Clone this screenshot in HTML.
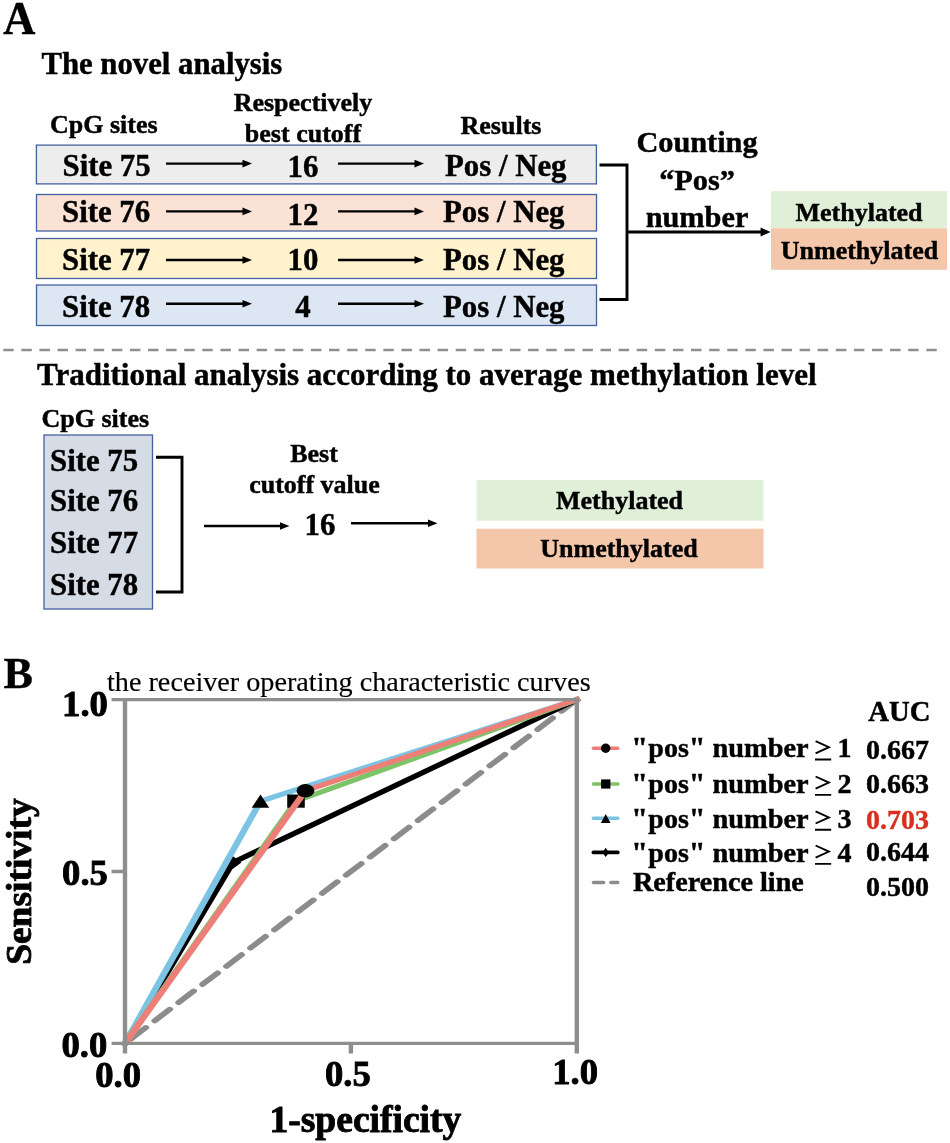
<!DOCTYPE html>
<html>
<head>
<meta charset="utf-8">
<title>Figure</title>
<style>
html,body{margin:0;padding:0;background:#fff;}
body{width:950px;height:1143px;overflow:hidden;font-family:"Liberation Serif",serif;}
svg{display:block;will-change:transform;}
text{font-family:"Liberation Serif",serif;font-weight:bold;fill:#000;stroke:#000;stroke-width:0.45px;}
.r{font-weight:normal;stroke-width:0.15px;}
.red{fill:#d9301e;stroke:#d9301e;}
.ct{stroke-width:0.85px;}
.ar{stroke:#000;stroke-width:2.4;fill:none;}
.bk{stroke:#000;stroke-width:2.9;fill:none;}
.bx{stroke:#42609d;stroke-width:1.3;}
</style>
</head>
<body>
<svg width="950" height="1143" viewBox="0 0 950 1143">
<rect x="0" y="0" width="950" height="1143" fill="#fff"/>

<!-- Panel A -->
<text transform="translate(3.2,33.7) scale(1,1.055)" font-size="44.5">A</text>
<text x="41.4" y="74.2" font-size="30.75">The novel analysis</text>
<text x="50" y="133" font-size="26">CpG sites</text>
<text x="303" y="111" font-size="26" text-anchor="middle">Respectively</text>
<text x="303" y="142" font-size="26" text-anchor="middle">best cutoff</text>
<text x="501" y="134.3" font-size="26" text-anchor="middle">Results</text>

<!-- rows -->
<g id="rows">
<rect class="bx" x="36.4" y="145.1" width="560" height="38.8" fill="#ededed"/>
<rect class="bx" x="36.5" y="194.5" width="560" height="36.5" fill="#fae3d5"/>
<rect class="bx" x="36.5" y="238.5" width="560" height="40" fill="#fff2cc"/>
<rect class="bx" x="36.5" y="285" width="560" height="40.5" fill="#dde7f3"/>

<text x="62.5" y="176" font-size="30.8">Site 75</text>
<text x="62" y="222" font-size="30.8">Site 76</text>
<text x="62" y="269.5" font-size="30.8">Site 77</text>
<text x="62" y="316.8" font-size="30.8">Site 78</text>

<text x="303" y="177.3" font-size="30.8" text-anchor="middle">16</text>
<text x="303" y="225.3" font-size="30.8" text-anchor="middle">12</text>
<text x="303" y="269.5" font-size="30.8" text-anchor="middle">10</text>
<text x="303" y="316.8" font-size="30.8" text-anchor="middle">4</text>

<text x="445" y="175.5" font-size="30.8">Pos / Neg</text>
<text x="443" y="222" font-size="30.8">Pos / Neg</text>
<text x="443" y="269.5" font-size="30.8">Pos / Neg</text>
<text x="443" y="316.8" font-size="30.8">Pos / Neg</text>

<path class="ar" d="M166,163.6 H243.5"/><path d="M252.0,163.6 L242.5,159.80 L242.5,167.40 Z" fill="#000"/>
<path class="ar" d="M166,211.4 H243.5"/><path d="M252.0,211.4 L242.5,207.60 L242.5,215.20 Z" fill="#000"/>
<path class="ar" d="M166,260.0 H243.5"/><path d="M252.0,260.0 L242.5,256.20 L242.5,263.80 Z" fill="#000"/>
<path class="ar" d="M166,303.7 H243.5"/><path d="M252.0,303.7 L242.5,299.90 L242.5,307.50 Z" fill="#000"/>
<path class="ar" d="M338,163.6 H415.5"/><path d="M424.0,163.6 L414.5,159.80 L414.5,167.40 Z" fill="#000"/>
<path class="ar" d="M338,211.4 H415.5"/><path d="M424.0,211.4 L414.5,207.60 L414.5,215.20 Z" fill="#000"/>
<path class="ar" d="M338,260.0 H415.5"/><path d="M424.0,260.0 L414.5,256.20 L414.5,263.80 Z" fill="#000"/>
<path class="ar" d="M338,303.7 H415.5"/><path d="M424.0,303.7 L414.5,299.90 L414.5,307.50 Z" fill="#000"/>
</g>

<!-- bracket -->
<path class="bk" d="M599.5,165 H627 V299.5 H599.5"/>
<path class="bk" d="M627,232 H761.6"/><path d="M770.6,232 L760.6,227.50 L760.6,236.50 Z" fill="#000"/>
<text x="697" y="152.4" font-size="30.3" text-anchor="middle">Counting</text>
<text x="697" y="189.6" font-size="30.3" text-anchor="middle">&#8220;Pos&#8221;</text>
<text x="697" y="227" font-size="30.3" text-anchor="middle">number</text>

<rect x="771" y="191.2" width="176" height="37.2" fill="#e0efd7"/>
<rect x="771" y="228.3" width="176" height="41.5" fill="#f4c7ab"/>
<text x="859" y="220.7" font-size="26" text-anchor="middle">Methylated</text>
<text x="859.5" y="258.7" font-size="26" text-anchor="middle">Unmethylated</text>

<!-- dashed separator -->
<path d="M3.2,350 H937" stroke="#8f8f8f" stroke-width="2.7" stroke-dasharray="10.5 7.6" fill="none"/>

<!-- Traditional -->
<text x="37" y="384.8" font-size="31">Traditional analysis according to average methylation level</text>
<text x="41.5" y="427.3" font-size="26">CpG sites</text>
<rect class="bx" x="44" y="435" width="108.5" height="174" fill="#d6dce5"/>
<text x="50" y="471.4" font-size="30.8">Site 75</text>
<text x="50" y="511.4" font-size="30.8">Site 76</text>
<text x="50" y="553.3" font-size="30.8">Site 77</text>
<text x="50" y="594.8" font-size="30.8">Site 78</text>
<path class="bk" d="M156,457.2 H182 V592 H156"/>
<path class="ar" d="M204,526.0 H281.0"/><path d="M289.5,526.0 L280.0,522.20 L280.0,529.80 Z" fill="#000"/>
<path class="ar" d="M351,523.3 H429.0"/><path d="M437.5,523.3 L428.0,519.50 L428.0,527.10 Z" fill="#000"/>
<text x="314" y="461.5" font-size="26" text-anchor="middle">Best</text>
<text x="314.5" y="492.5" font-size="26" text-anchor="middle">cutoff value</text>
<text x="320" y="534.9" font-size="30.8" text-anchor="middle">16</text>
<rect x="476.5" y="480" width="287" height="40.7" fill="#e0efd7"/>
<rect x="476.5" y="528.7" width="287" height="39.8" fill="#f4c7ab"/>
<text x="619.5" y="509.1" font-size="26" text-anchor="middle">Methylated</text>
<text x="619" y="557.3" font-size="26" text-anchor="middle">Unmethylated</text>

<!-- Panel B -->
<text x="3.6" y="688.2" font-size="44">B</text>
<text class="r" x="107" y="690.5" font-size="28.2">the receiver operating characteristic curves</text>

<!-- chart -->
<g id="chart" transform="matrix(1.33 0 0 1 125 1043.4)" fill="none" stroke-linejoin="miter" stroke-linecap="square">
<!-- reference -->
<path d="M0,0 L339.70,-343.80" stroke="#8c8c8c" stroke-width="5" stroke-dasharray="16.1 9.5" stroke-dashoffset="19.4" stroke-linecap="round"/>
<!-- black (pos>=4) -->
<path d="M0,0 L80.98,-180.80 L339.70,-343.80" stroke="#000" stroke-width="5"/>
<path d="M80.98,-187.30 L87.48,-180.80 L80.98,-174.30 L74.48,-180.80 Z" fill="#000"/>
<!-- blue (pos>=3) -->
<path d="M0,0 L101.88,-242.30 L339.70,-343.80" stroke="#7dc3e3" stroke-width="5"/>
<path d="M101.88,-248.90 L108.48,-235.70 L95.28,-235.70 Z" fill="#000"/>
<!-- green (pos>=2) -->
<path d="M0,0 L128.57,-242.30 L339.70,-343.80" stroke="#7dc468" stroke-width="5"/>
<rect x="121.97" y="-248.90" width="13.20" height="13.20" fill="#000"/>
<!-- red (pos>=1) -->
<path d="M0,0 L135.71,-252.70 L339.70,-343.80" stroke="#ee7f78" stroke-width="5"/>
<circle cx="135.71" cy="-252.70" r="6.70" fill="#000"/>
<!-- axes -->
<path d="M-10.1,-343.80 H339.70 V10 M-10.1,-171.90 H0 M-10.1,0 H339.70 M0,-343.80 V10 M169.85,0 V10" stroke="#8e8e8e" stroke-width="3.3" stroke-linecap="butt"/>
</g>
<text class="ct" transform="translate(107.9,716.2) scale(1.01,1)" font-size="36.3" text-anchor="end">1.0</text>
<text class="ct" transform="translate(107.9,885.2) scale(1.01,1)" font-size="36.3" text-anchor="end">0.5</text>
<text class="ct" transform="translate(107.3,1057.2) scale(1.01,1)" font-size="36.3" text-anchor="end">0.0</text>
<text class="ct" transform="translate(118.2,1087.2) scale(1.01,1)" font-size="36.3" text-anchor="middle">0.0</text>
<text class="ct" transform="translate(347.8,1086.4) scale(1.01,1)" font-size="36.3" text-anchor="middle">0.5</text>
<text class="ct" transform="translate(575.2,1084) scale(1.01,1)" font-size="36.3" text-anchor="middle">1.0</text>
<text class="ct" transform="translate(365.4,1131.9) scale(1.015,1)" font-size="37" text-anchor="middle">1-specificity</text>
<text class="ct" transform="translate(31.3,881.6) rotate(-90) scale(1.035,1)" font-size="36.2" text-anchor="middle">Sensitivity</text>

<!-- legend -->
<g font-size="28">
<text x="899.3" y="721.4" text-anchor="middle" font-size="28.7">AUC</text>
<text x="631.3" y="757.4"><tspan font-size="30">"</tspan><tspan dx="0.4">pos</tspan><tspan font-size="30">"</tspan><tspan font-size="28.35"> number</tspan></text>
<text x="837.6" y="757.4">1</text>
<path d="M815.6,741.1 L828.9,747.2 L815.6,753.3 M815,759.5 H831.2" stroke="#000" stroke-width="1.9" fill="none" stroke-linejoin="miter"/>
<text x="866" y="758.7">0.667</text>
<text x="631.3" y="792.8"><tspan font-size="30">"</tspan><tspan dx="0.4">pos</tspan><tspan font-size="30">"</tspan><tspan font-size="28.35"> number</tspan></text>
<text x="837.6" y="792.8">2</text>
<path d="M815.6,776.5 L828.9,782.6 L815.6,788.7 M815,794.9 H831.2" stroke="#000" stroke-width="1.9" fill="none" stroke-linejoin="miter"/>
<text x="866" y="793.0">0.663</text>
<text x="631.3" y="827.6"><tspan font-size="30">"</tspan><tspan dx="0.4">pos</tspan><tspan font-size="30">"</tspan><tspan font-size="28.35"> number</tspan></text>
<text x="837.6" y="827.6">3</text>
<path d="M815.6,811.3 L828.9,817.4 L815.6,823.5 M815,829.7 H831.2" stroke="#000" stroke-width="1.9" fill="none" stroke-linejoin="miter"/>
<text class="red" x="866" y="828.8">0.703</text>
<text x="631.3" y="861.8"><tspan font-size="30">"</tspan><tspan dx="0.4">pos</tspan><tspan font-size="30">"</tspan><tspan font-size="28.35"> number</tspan></text>
<text x="837.6" y="861.8">4</text>
<path d="M815.6,845.5 L828.9,851.6 L815.6,857.7 M815,863.9 H831.2" stroke="#000" stroke-width="1.9" fill="none" stroke-linejoin="miter"/>
<text x="866" y="861.4">0.644</text>
<text x="633" y="890.6" font-size="28.2">Reference line</text>
<text x="866" y="895.6">0.500</text>
</g>
<g stroke-width="3.5" fill="none" stroke-linecap="round">
<path d="M593.4,748.3 H617.8" stroke="#ee7f78"/>
<path d="M593.4,784 H617.8" stroke="#7dc468"/>
<path d="M593.4,818.3 H617.8" stroke="#7dc3e3"/>
<path d="M593.4,852.4 H617.8" stroke="#000" stroke-width="3.7"/>
<path d="M593.4,882.5 H617.8" stroke="#8c8c8c" stroke-dasharray="10.2 7.3"/>
</g>
<circle cx="605.7" cy="748.3" r="4.7" fill="#000"/>
<rect x="601.1" y="779.4" width="9.3" height="9.2" fill="#000"/>
<path d="M605.7,814 L610.5,823 L600.9,823 Z" fill="#000"/>
<path d="M605.7,847.7 L609,852.4 L605.7,857.1 L602.4,852.4 Z" fill="#000"/>
</svg>
</body>
</html>
